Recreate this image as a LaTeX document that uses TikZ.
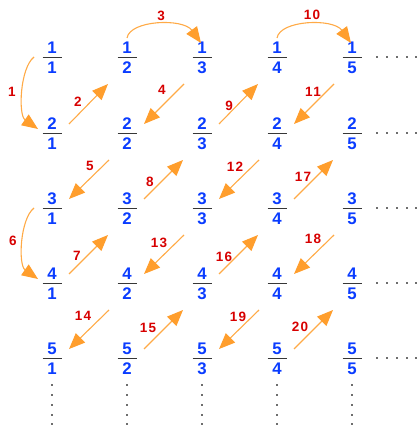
\documentclass[tikz,border=0pt]{standalone}
\usepackage{fontspec}
\setmainfont{Liberation Sans}
\newfontfamily\labfont[LetterSpace=10]{Liberation Sans}
\usetikzlibrary{arrows.meta,calc}
\definecolor{fblue}{RGB}{10,60,255}
\definecolor{lred}{RGB}{215,0,0}
\definecolor{oline}{RGB}{255,170,70}
\definecolor{ohead}{RGB}{255,158,45}
\definecolor{barc}{RGB}{55,55,55}
\definecolor{dotc}{RGB}{110,110,110}
\tikzset{
  digit/.style={inner sep=0pt, text=fblue, font=\fontsize{16.8}{18}\selectfont\bfseries},
  fbar/.style={draw=barc, line width=1.4pt},
  lab/.style={inner sep=0pt, text=lred, font=\labfont\fontsize{13.5}{15}\selectfont\bfseries},
  arr/.style={draw=oline, line width=1.1pt, -{Triangle[length=16pt,width=13pt,fill=ohead,color=ohead]}},
  dotm/.style={fill=dotc}
}
\newcommand\fracat[5]{%
  \coordinate (#1) at (#2,#3);
  \node[digit] (#1n) at ($(#1)+(0,-9)$) {#4};
  \node[digit] (#1d) at ($(#1)+(0,10.5)$) {#5};
  \draw[fbar] ($(#1)+(-9.5,0.3)$) -- ($(#1)+(9.5,0.3)$);
}
\begin{document}
\begin{tikzpicture}[x=1pt,y=-1pt]
\useasboundingbox (0,0) rectangle (418,427);
% fractions
\foreach \r/\y in {1/57,2/133,3/208,4/283,5/358}{
  \foreach \c/\x in {1/52,2/127,3/202,4/277,5/352}{
    \fracat{f\r\c}{\x}{\y}{\r}{\c}
  }
  \foreach \dx in {377,387,397,407,416}{
    \fill[dotm] (\dx-1,\y-0.7) rectangle ++(2,2);
  }
}
\foreach \x in {52,127,202,277,352}{
  \foreach \dy in {385,395,405,415,424}{
    \fill[dotm] (\x-1,\dy-1) rectangle ++(2,2);
  }
}
% curved arrows
\draw[arr] ($(f11)+(-18,0)$) .. controls ($(f11)+(-32,11)$) and ($(f21)+(-34,-18)$) .. ($(f21)+(-14,-4)$);
\draw[arr] ($(f31)+(-18,0)$) .. controls ($(f31)+(-32,11)$) and ($(f41)+(-34,-18)$) .. ($(f41)+(-14,-4)$);
\draw[arr] ($(f12)+(0,-19)$) .. controls ($(f12)+(3,-37)$) and ($(f13)+(-19,-39)$) .. ($(f13)+(-1,-14)$);
\draw[arr] ($(f14)+(0,-19)$) .. controls ($(f14)+(3,-37)$) and ($(f15)+(-19,-39)$) .. ($(f15)+(-1,-14)$);
% up-right arrows
\foreach \a/\b in {f21/f12, f41/f32, f32/f23, f23/f14, f52/f43, f43/f34, f34/f25, f54/f45}{
  \draw[arr] ($(\a)+(17,-9)$) -- ($(\b)+(-19,27)$);
}
% down-left arrows
\foreach \a/\b in {f13/f22, f22/f31, f15/f24, f24/f33, f33/f42, f42/f51, f35/f44, f44/f53}{
  \draw[arr] ($(\a)+(-18,27)$) -- ($(\b)+(17,-9)$);
}
% labels
\node[lab] (l1) at (12,92) {1};
\node[lab] (l2) at (78,102) {2};
\node[lab] (l3) at (161,16) {3};
\node[lab] (l4) at (162,90) {4};
\node[lab] (l5) at (90,166) {5};
\node[lab] (l6) at (13,241) {6};
\node[lab] (l7) at (77,256) {7};
\node[lab] (l8) at (150,182) {8};
\node[lab] (l9) at (229,106) {9};
\node[lab] (l10) at (312,15) {10};
\node[lab] (l11) at (313,92) {11};
\node[lab] (l12) at (235,167) {12};
\node[lab] (l13) at (159,243) {13};
\node[lab] (l14) at (83,316) {14};
\node[lab] (l15) at (148,328) {15};
\node[lab] (l16) at (224,257) {16};
\node[lab] (l17) at (303,177) {17};
\node[lab] (l18) at (313,239) {18};
\node[lab] (l19) at (238,317) {19};
\node[lab] (l20) at (300,327) {20};
\end{tikzpicture}
\end{document}
